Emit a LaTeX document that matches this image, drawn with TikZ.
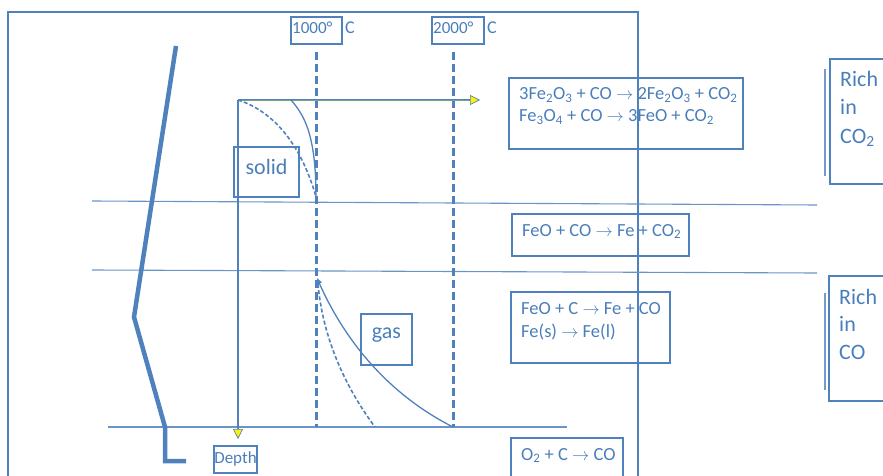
\documentclass[tikz,border=0pt]{standalone}
\usepackage{fontspec}
\setmainfont{Carlito}
\usetikzlibrary{arrows.meta,calc}
\definecolor{ob}{HTML}{4F81BD}
\definecolor{obt}{HTML}{4A7EBB}
\definecolor{og}{HTML}{9BBB59}
\begin{document}
\begin{tikzpicture}[x=1pt,y=-1pt,
  frame/.style={draw=ob,line width=1.3pt},
  layer/.style={draw=ob!85,line width=1.1pt},
  wall/.style={draw=ob,line width=4.5pt,line join=miter},
  axis/.style={draw=ob,line width=2.6pt},
  iso/.style={draw=ob,line width=3pt,dash pattern=on 8pt off 4pt},
  curve/.style={draw=ob,line width=1.3pt},
  dcurve/.style={draw=ob,line width=1.6pt,dash pattern=on 4pt off 2.2pt},
  rbox/.style={draw=ob,line width=1.4pt,inner sep=0pt},
  rx/.style={text=obt,font=\fontsize{18.5}{22}\selectfont,anchor=base west,inner sep=0pt},
  rich/.style={text=obt,font=\fontsize{22}{28}\selectfont,anchor=base west,inner sep=0pt},
  lbl/.style={text=obt,font=\fontsize{22}{26}\selectfont,inner sep=0pt},
  tmp/.style={text=obt,font=\fontsize{17}{19}\selectfont,inner sep=0pt},
  tip/.style={-{Triangle[length=10pt,width=10pt,fill=yellow,line width=0.7pt]}}
]
\useasboundingbox (0,0) rectangle (883,476);
% outer frame
\draw[frame] (8,476) -- (8,12) -- (638,12) -- (638,476);
% layer boundaries
\coordinate (l1a) at (92,201); \coordinate (l1b) at (817,205);
\coordinate (l2a) at (92,270); \coordinate (l2b) at (817,273);
\coordinate (l3a) at (108,427); \coordinate (l3b) at (567,427);
\draw[layer] (l1a) -- (l1b);
\draw[layer] (l2a) -- (l2b);
\draw[layer] (l3a) -- (l3b);
% furnace wall
\draw[wall] (176,46) -- (134,317) -- (165,427) -- (165,461) -- (186,461);
% isotherms
\node[rbox,minimum width=51pt,minimum height=27pt] (t1) at (316.5,30.5) {};
\node[tmp,anchor=base west] (t1t) at (292,34) {1000°};
\node[tmp,anchor=base west,font=\fontsize{18}{20}\selectfont] (c1) at (345,34) {C};
\node[rbox,minimum width=52pt,minimum height=27pt] (t2) at (458,30.5) {};
\node[tmp,anchor=base west] (t2t) at (433,34) {2000°};
\node[tmp,anchor=base west,font=\fontsize{18}{20}\selectfont] (c2) at (487,34) {C};
\coordinate (i1a) at (316,52); \coordinate (i1b) at (316,427);
\coordinate (i2a) at (453,52); \coordinate (i2b) at (453,427);
\draw[iso] (i1a) -- (i1b);
\draw[iso] (i2a) -- (i2b);
% axes
\coordinate (o) at (238,100);
\coordinate (xend) at (480,100);
\coordinate (yend) at (238,439);
\draw[axis,tip] (o) -- (yend);
\draw[axis,tip] (o) -- (xend);
\draw[draw=og!55!ob,line width=1pt] ($(o)+(1,0.7)$) -- (469,100.7);
% temperature profiles, upper zone
\coordinate (us) at (291,100);
\coordinate (ue) at (316,197);
\draw[curve] (us) .. controls (303,114) and (316,132) .. (ue);
\draw[dcurve] (o) .. controls (270,110) and (300,140) .. (ue);
% temperature profiles, lower zone
\coordinate (ls) at (317,278);
\coordinate (le) at (453,427);
\coordinate (ds) at (318,284);
\coordinate (de) at (375,427);
\draw[curve,{Triangle[length=6pt,width=5pt]}-] (ls) .. controls (340,330) and (380,390) .. (le);
\draw[dcurve] (ds) .. controls (322,330) and (340,380) .. (de);
% phase labels
\node[rbox,minimum width=65pt,minimum height=50pt] (solidbox) at (266.5,172) {};
\node[lbl] (solid) at (266.5,167) {solid};
\node[rbox,minimum width=51pt,minimum height=51pt] (gasbox) at (386.5,339.5) {};
\node[lbl] (gas) at (386.5,335) {gas};
\node[rbox,minimum width=43pt,minimum height=27pt] (depthbox) at (235.5,459.5) {};
\node[text=obt,font=\fontsize{17}{19}\selectfont,inner sep=0pt] (depth) at (235.5,459) {Depth};
% reaction boxes
\node[rbox,minimum width=234pt,minimum height=71pt] (r1) at (626,113.5) {};
\node[rx] (r1a) at (519,100) {3Fe\textsubscript{2}O\textsubscript{3} + CO $\rightarrow$ 2Fe\textsubscript{2}O\textsubscript{3} + CO\textsubscript{2}};
\node[rx] (r1b) at (519,122) {Fe\textsubscript{3}O\textsubscript{4} + CO $\rightarrow$ 3FeO + CO\textsubscript{2}};
\node[rbox,minimum width=177pt,minimum height=42pt] (r2) at (600.5,235) {};
\node[rx] (r2a) at (522,236) {FeO + CO $\rightarrow$ Fe + CO\textsubscript{2}};
\node[rbox,minimum width=159pt,minimum height=71pt] (r3) at (590.5,327.5) {};
\node[rx] (r3a) at (521,314) {FeO + C $\rightarrow$ Fe + CO};
\node[rx] (r3b) at (521,337) {Fe(s) $\rightarrow$ Fe(l)};
\draw[rbox] (511,480) -- (511,438) -- (623,438) -- (623,480);
\node[rx] (r4a) at (521,460) {O\textsubscript{2} + C $\rightarrow$ CO};
% gas composition
\draw[rbox] (890,59) -- (830,59) -- (830,184) -- (890,184);
\draw[draw=ob!80,line width=1.5pt] (825,69) -- (825,176);
\node[rich] (rc2a) at (840,87) {Rich};
\node[rich] (rc2b) at (840,114) {in};
\node[rich] (rc2c) at (840,143) {CO\textsubscript{2}};
\draw[rbox] (890,276) -- (829,276) -- (829,401) -- (890,401);
\draw[draw=ob!80,line width=1.5pt] (825,293) -- (825,390);
\node[rich] (rca) at (839,304) {Rich};
\node[rich] (rcb) at (839,331) {in};
\node[rich] (rcc) at (839,359) {CO};
\end{tikzpicture}
\end{document}
